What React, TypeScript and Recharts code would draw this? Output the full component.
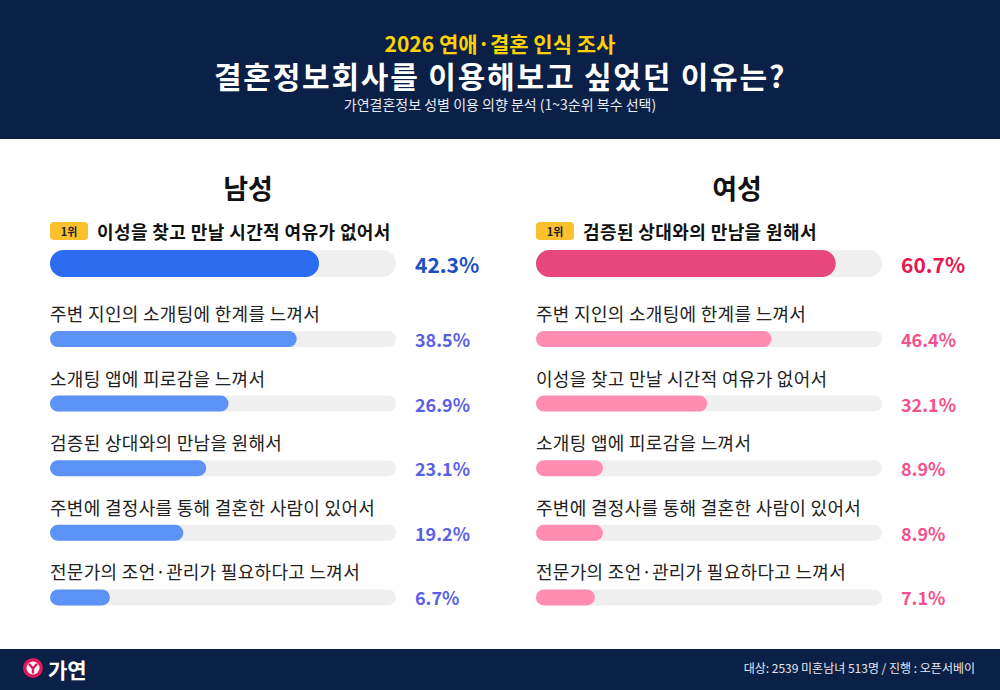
import React from "react";
import { BarChart, Bar, XAxis, YAxis, LabelList, Rectangle } from "recharts";

const FONT = "'Noto Sans CJK KR', 'Noto Sans', sans-serif";

const maleLabels = [
  "이성을 찾고 만날 시간적 여유가 없어서",
  "주변 지인의 소개팅에 한계를 느껴서",
  "소개팅 앱에 피로감을 느껴서",
  "검증된 상대와의 만남을 원해서",
  "주변에 결정사를 통해 결혼한 사람이 있어서",
  "전문가의 조언·관리가 필요하다고 느껴서",
];
const maleValues = [42.3, 38.5, 26.9, 23.1, 19.2, 6.7];

const femaleLabels = [
  "검증된 상대와의 만남을 원해서",
  "주변 지인의 소개팅에 한계를 느껴서",
  "이성을 찾고 만날 시간적 여유가 없어서",
  "소개팅 앱에 피로감을 느껴서",
  "주변에 결정사를 통해 결혼한 사람이 있어서",
  "전문가의 조언·관리가 필요하다고 느껴서",
];
const femaleValues = [60.7, 46.4, 32.1, 8.9, 8.9, 7.1];

const maleDomain = [-3.5, 55.4];
const femaleDomain = [-6, 71];

const CHART_W = 460;
const M_LEFT = 10;
const TRACK_W = 346;
const M_RIGHT = CHART_W - M_LEFT - TRACK_W;
const PLOT_RIGHT = M_LEFT + TRACK_W;

const PillShape = (props: any) => {
  const { x, y, width, height, fill, background } = props;
  const x0 = background?.x ?? M_LEFT;
  const x1 = x + width;
  return <Rectangle x={x0} y={y} width={Math.max(x1 - x0, 0)} height={height} radius={height / 2} fill={fill} />;
};

type RowsProps = {
  left: number;
  top: number;
  height: number;
  marginTop: number;
  labels: string[];
  values: number[];
  domain: number[];
  barSize: number;
  barColor: string;
  valueColor: string;
  valueSize: number;
  labelGap: number;
  first?: boolean;
};

function BarRows(p: RowsProps) {
  const data = p.labels.map((name, i) => ({ name, value: p.values[i] }));

  const nameLabel = (lp: any) => {
    const cy = lp.y + lp.height / 2 - p.labelGap;
    const name = data[lp.index]?.name;
    if (p.first) {
      return (
        <g>
          <rect x={M_LEFT} y={cy - 9} width={38} height={18} rx={4} fill="#fbc02d" />
          <text x={M_LEFT + 19} y={cy} textAnchor="middle" dominantBaseline="central" fontSize={11} fontWeight={700} fill="#222" fontFamily={FONT}>1위</text>
          <text x={M_LEFT + 47} y={cy} dominantBaseline="central" fontSize={18} letterSpacing={0.4} fontWeight={700} fill="#111" fontFamily={FONT}>{name}</text>
        </g>
      );
    }
    return (
      <text x={M_LEFT} y={cy} dominantBaseline="central" fontSize={18} letterSpacing={0.3} fill="#222" fontFamily={FONT}>{name}</text>
    );
  };

  const valueLabel = (lp: any) => (
    <text x={PLOT_RIGHT + 19} y={lp.y + lp.height / 2} dominantBaseline="central" fontSize={p.valueSize} fontWeight={700} fill={p.valueColor} fontFamily={FONT}>
      {`${lp.value}%`}
    </text>
  );

  return (
    <div style={{ position: "absolute", left: p.left - M_LEFT, top: p.top }}>
      <BarChart width={CHART_W} height={p.height} data={data} layout="vertical"
        margin={{ top: p.marginTop, right: M_RIGHT, bottom: 0, left: M_LEFT }} style={{ overflow: "visible" }}>
        <XAxis type="number" domain={p.domain} allowDataOverflow hide />
        <YAxis type="category" dataKey="name" hide />
        <Bar dataKey="value" barSize={p.barSize} fill={p.barColor} isAnimationActive={false}
          background={{ fill: "#efefef", radius: p.barSize / 2 } as any} shape={PillShape}>
          <LabelList dataKey="value" content={nameLabel} />
          <LabelList dataKey="value" content={valueLabel} />
        </Bar>
      </BarChart>
    </div>
  );
}

function Panel({ left, title, titleX, labels, values, domain, c1, c2, v1, v2 }: any) {
  return (
    <>
      <div style={{ position: "absolute", left: titleX - 100, width: 200, top: 170, textAlign: "center", fontSize: 27, fontWeight: 700, color: "#111", lineHeight: "36px" }}>{title}</div>
      <BarRows left={left} top={210} height={80} marginTop={27} labels={labels.slice(0, 1)} values={values.slice(0, 1)}
        domain={domain} barSize={27} barColor={c1} valueColor={v1} valueSize={21} labelGap={32.5} first />
      <BarRows left={left} top={300} height={330} marginTop={7} labels={labels.slice(1)} values={values.slice(1)}
        domain={domain} barSize={16} barColor={c2} valueColor={v2} valueSize={18} labelGap={26} />
    </>
  );
}

export default function App() {
  return (
    <div style={{ position: "absolute", left: 0, top: 0, width: 1000, height: 690, background: "#fff", fontFamily: FONT, overflow: "hidden" }}>
      <div style={{ position: "absolute", left: 0, top: 0, width: 1000, height: 139, background: "#0b2046" }}>
        <div style={{ position: "absolute", top: 33, width: 1000, textAlign: "center", color: "#fdd108", fontSize: 21, fontWeight: 700, lineHeight: "21px" }}>2026 연애·결혼 인식 조사</div>
        <div style={{ position: "absolute", top: 60, width: 1000, textAlign: "center", color: "#fff", fontSize: 30, fontWeight: 700, letterSpacing: 1.8, lineHeight: "30px" }}>결혼정보회사를 이용해보고 싶었던 이유는?</div>
        <div style={{ position: "absolute", top: 97, width: 1000, textAlign: "center", color: "#e8ebf2", fontSize: 14, lineHeight: "14px" }}>가연결혼정보 성별 이용 의향 분석 (1~3순위 복수 선택)</div>
      </div>

      <Panel left={50} title="남성" titleX={248} labels={maleLabels} values={maleValues} domain={maleDomain}
        c1="#2b6cf0" c2="#5d93f6" v1="#1c4fc6" v2="#5a5fe6" />
      <Panel left={536} title="여성" titleX={737} labels={femaleLabels} values={femaleValues} domain={femaleDomain}
        c1="#e8477d" c2="#ff8db1" v1="#e5174f" v2="#f2528b" />

      <div style={{ position: "absolute", left: 0, top: 649, width: 1000, height: 41, background: "#0b2046" }}>
        <svg width={22} height={22} style={{ position: "absolute", left: 22, top: 8 }}>
          <circle cx={11} cy={11} r={10} fill="#e0185c" />
          <circle cx={11} cy={11} r={6.5} fill="#fff" />
          <path d="M7.5 7.5 L11 11.5 L14.5 7.5 M11 11.5 L11 15.5" stroke="#e0185c" strokeWidth={2.4} fill="none" strokeLinecap="round" />
        </svg>
        <div style={{ position: "absolute", left: 48, top: 6, color: "#fff", fontSize: 21, fontWeight: 700, lineHeight: "28px" }}>가연</div>
        <div style={{ position: "absolute", right: 25, top: 11, color: "#e6e8ee", fontSize: 12, lineHeight: "16px" }}>대상: 2539 미혼남녀 513명 / 진행 : 오픈서베이</div>
      </div>
    </div>
  );
}
